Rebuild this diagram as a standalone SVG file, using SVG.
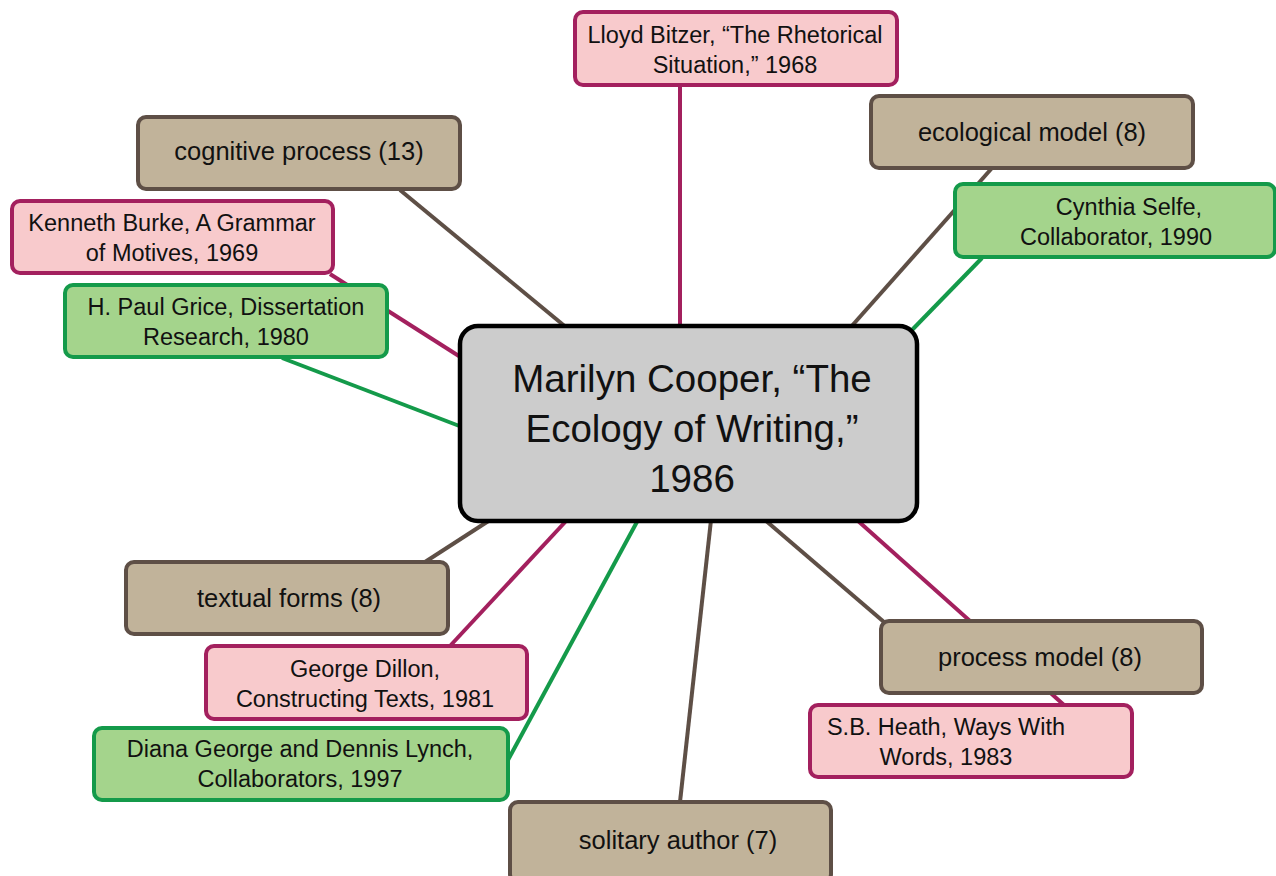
<svg xmlns="http://www.w3.org/2000/svg" width="1276" height="876" viewBox="0 0 1276 876">
<style>
.box{stroke-width:4}
.tan{fill:#c1b39a;stroke:#5e4f46}
.pink{fill:#f8cacc;stroke:#a3205e}
.green{fill:#a4d48c;stroke:#149a4a}
.center{fill:#cccccc;stroke:#000000;stroke-width:4.5}
.t{font-family:"Liberation Sans",Arial,sans-serif;font-size:23.5px;fill:#111;text-anchor:middle}
.tt{font-size:25.5px}
.tc{font-family:"Liberation Sans",Arial,sans-serif;font-size:38.5px;fill:#111;text-anchor:middle}
.c{stroke-width:4;fill:none}
.cb{stroke:#5e4f46}
.cm{stroke:#a3205e}
.cg{stroke:#149a4a}
</style>
<rect width="1276" height="876" fill="#ffffff"/>
<g id="connectors">
<line class="c cm" x1="680" y1="86" x2="680" y2="328"/>
<line class="c cb" x1="400" y1="190" x2="567" y2="328"/>
<line class="c cm" x1="330" y1="274" x2="462" y2="358"/>
<line class="c cg" x1="282" y1="358" x2="462" y2="427"/>
<line class="c cb" x1="992" y1="168" x2="850" y2="328"/>
<line class="c cg" x1="982" y1="258" x2="912" y2="330"/>
<line class="c cb" x1="425" y1="562" x2="490" y2="520"/>
<line class="c cm" x1="450" y1="646" x2="567" y2="520"/>
<line class="c cg" x1="508" y1="760" x2="638" y2="520"/>
<line class="c cb" x1="680" y1="802" x2="711" y2="520"/>
<line class="c cb" x1="884" y1="622" x2="765" y2="520"/>
<line class="c cm" x1="1064" y1="705" x2="857" y2="520"/>
</g>
<g id="n-bitzer">
<rect class="box pink" x="575" y="12" width="322" height="73" rx="8"/>
<text class="t" x="735" y="43">Lloyd Bitzer, “The Rhetorical</text>
<text class="t" x="735" y="73">Situation,” 1968</text>
</g>
<g id="n-cognitive">
<rect class="box tan" x="138" y="117" width="322" height="72" rx="8"/>
<text class="t tt" x="299" y="160">cognitive process (13)</text>
</g>
<g id="n-burke">
<rect class="box pink" x="12" y="201" width="321" height="72" rx="8"/>
<text class="t" x="172" y="231">Kenneth Burke, A Grammar</text>
<text class="t" x="172" y="261">of Motives, 1969</text>
</g>
<g id="n-grice">
<rect class="box green" x="65" y="285" width="322" height="72" rx="8"/>
<text class="t" x="226" y="315">H. Paul Grice, Dissertation</text>
<text class="t" x="226" y="345">Research, 1980</text>
</g>
<g id="n-ecological">
<rect class="box tan" x="871" y="96" width="322" height="72" rx="8"/>
<text class="t tt" x="1032" y="141">ecological model (8)</text>
</g>
<g id="n-selfe">
<rect class="box green" x="955" y="184" width="320" height="73" rx="8"/>
<text class="t" x="1129" y="215">Cynthia Selfe,</text>
<text class="t" x="1116" y="245">Collaborator, 1990</text>
</g>
<g id="n-center">
<rect class="center" x="460" y="326" width="457" height="195" rx="18"/>
<text class="tc" x="692" y="392">Marilyn Cooper, “The</text>
<text class="tc" x="692" y="442">Ecology of Writing,”</text>
<text class="tc" x="692" y="492">1986</text>
</g>
<g id="n-textual">
<rect class="box tan" x="126" y="562" width="322" height="72" rx="8"/>
<text class="t tt" x="289" y="607">textual forms (8)</text>
</g>
<g id="n-dillon">
<rect class="box pink" x="206" y="646" width="321" height="73" rx="8"/>
<text class="t" x="365" y="677">George Dillon,</text>
<text class="t" x="365" y="707">Constructing Texts, 1981</text>
</g>
<g id="n-george">
<rect class="box green" x="94" y="728" width="414" height="72" rx="8"/>
<text class="t" x="300" y="757">Diana George and Dennis Lynch,</text>
<text class="t" x="300" y="787">Collaborators, 1997</text>
</g>
<g id="n-solitary">
<rect class="box tan" x="510" y="802" width="321" height="80" rx="8"/>
<text class="t tt" x="678" y="849">solitary author (7)</text>
</g>
<g id="n-process">
<rect class="box tan" x="881" y="621" width="321" height="72" rx="8"/>
<text class="t tt" x="1040" y="666">process model (8)</text>
</g>
<g id="n-heath">
<rect class="box pink" x="810" y="705" width="322" height="72" rx="8"/>
<text class="t" x="946" y="735">S.B. Heath, Ways With</text>
<text class="t" x="946" y="765">Words, 1983</text>
</g>
</svg>
